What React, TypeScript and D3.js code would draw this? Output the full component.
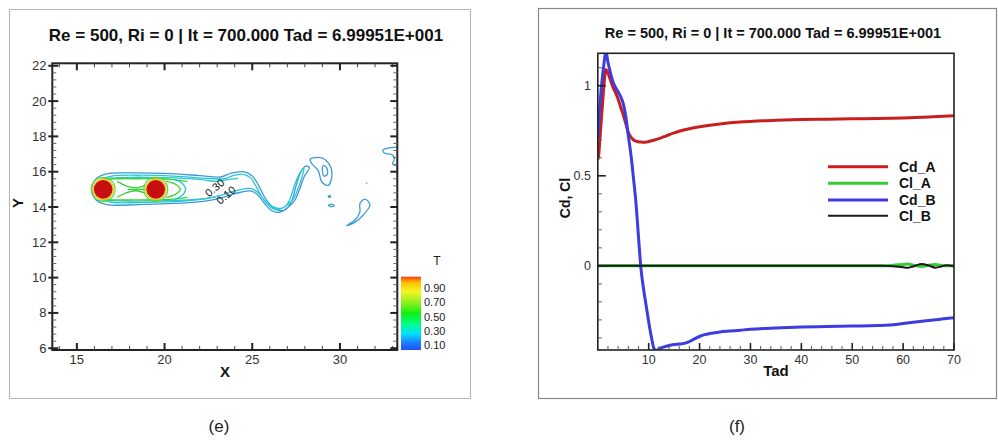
import React from 'react';
import * as d3 from 'd3';

type P = [number, number];

// ---------- Right panel (f) data ----------
const tadCdA = [0, 0.2, 0.4, 0.8, 1.2, 1.6, 2.0, 2.5, 3.0, 3.5, 4.0, 4.5, 5, 5.5, 6, 6.5, 7, 7.5, 8, 8.5, 9, 9.5, 10, 11, 12, 13, 14, 15, 16, 18, 20, 22, 24, 26, 28, 30, 35, 40, 45, 50, 55, 60, 65, 70];
const cdA = [0.59, 0.62, 0.70, 0.85, 1.0, 1.09, 1.07, 1.03, 0.99, 0.96, 0.925, 0.88, 0.84, 0.79, 0.74, 0.715, 0.70, 0.692, 0.689, 0.687, 0.686, 0.687, 0.69, 0.697, 0.706, 0.717, 0.728, 0.738, 0.747, 0.761, 0.772, 0.781, 0.788, 0.794, 0.798, 0.802, 0.808, 0.812, 0.814, 0.816, 0.818, 0.821, 0.826, 0.833];

const tadCdB = [0, 0.2, 0.4, 0.8, 1.2, 1.6, 2.0, 2.5, 3, 3.5, 4, 4.5, 5, 5.5, 6, 6.5, 7, 7.5, 8, 8.5, 9, 9.5, 10, 10.5, 11, 11.5, 12, 13, 14, 15, 16, 17, 18, 19, 20, 21, 22, 24, 26, 28, 30, 35, 40, 45, 50, 55, 58, 60, 62, 65, 68, 70];
const cdB = [0.70, 0.80, 0.89, 1.02, 1.12, 1.19, 1.13, 1.07, 1.02, 0.99, 0.965, 0.94, 0.9, 0.83, 0.72, 0.62, 0.49, 0.35, 0.16, -0.02, -0.13, -0.22, -0.31, -0.39, -0.455, -0.47, -0.462, -0.45, -0.442, -0.437, -0.434, -0.43, -0.42, -0.405, -0.392, -0.382, -0.375, -0.367, -0.362, -0.357, -0.352, -0.345, -0.34, -0.337, -0.334, -0.331, -0.327, -0.32, -0.313, -0.303, -0.294, -0.288];

const tadCl = [0, 10, 20, 30, 40, 50, 56, 58, 60, 61, 62, 63.7, 65, 66.4, 67.5, 68.5, 70];
const clA = [0, 0, 0, 0, 0, 0, 0, 0.003, 0.008, 0.01, 0.004, -0.004, 0.003, 0.008, 0.002, 0.001, 0.004];
const clB = [0, 0, 0, 0, 0, 0, 0, -0.002, -0.008, -0.01, -0.003, 0.01, 0.002, -0.01, -0.003, 0.004, -0.004];

const seriesNames = ['Cd_A', 'Cl_A', 'Cd_B', 'Cl_B'];
const seriesColors = ['#c81e1e', '#33cc33', '#3c3ce0', '#1a1a1a'];
const seriesWidths = [3, 3, 3, 2];

const xTicksR = [10, 20, 30, 40, 50, 60, 70];
const yTicksR = [0, 0.5, 1];
const yTickLabelsR = ['0', '0.5', '1'];

// ---------- Left panel (e) data ----------
const xTicksL = [15, 20, 25, 30];
const yTicksL = [6, 8, 10, 12, 14, 16, 18, 20, 22];
const colorbarLevels = [0.9, 0.7, 0.5, 0.3, 0.1];
const colorbarLabels = ['0.90', '0.70', '0.50', '0.30', '0.10'];
const cylinderCenters: P[] = [[16.5, 15], [19.5, 15]];

const wakeOuter010: P[] = [[15.85, 15.0], [16.1, 15.6], [16.7, 15.88], [18.0, 15.93], [20.0, 15.9], [22.0, 15.78], [23.2, 15.7], [23.8, 15.92], [24.5, 16.0], [25.0, 15.75], [25.35, 15.25], [25.65, 14.65], [26.05, 14.1], [26.45, 13.82], [26.9, 13.85], [27.25, 14.35], [27.5, 15.2], [27.75, 15.95], [28.05, 16.32], [28.25, 16.22], [27.95, 15.7], [27.7, 15.0], [27.4, 14.35], [27.0, 13.95], [26.55, 13.7], [26.1, 13.8], [25.7, 14.2], [25.3, 14.7], [24.95, 14.9], [24.4, 14.85], [23.8, 14.7], [23.2, 14.5], [22.2, 14.32], [20.5, 14.2], [18.5, 14.13], [16.7, 14.14], [16.1, 14.4]];
const wakeInner030: P[] = [[16.0, 15.0], [16.3, 15.5], [17.0, 15.75], [18.5, 15.8], [20.5, 15.75], [22.5, 15.62], [23.4, 15.6], [24.0, 15.8], [24.5, 15.85], [24.9, 15.65], [25.2, 15.2], [25.5, 14.65], [25.95, 14.15], [26.45, 13.92], [26.85, 14.0], [27.15, 14.45], [27.4, 15.2], [27.7, 15.9], [27.95, 16.2], [27.85, 15.75], [27.6, 15.0], [27.3, 14.4], [26.9, 14.05], [26.5, 13.85], [26.1, 13.95], [25.75, 14.3], [25.35, 14.8], [24.9, 15.05], [24.4, 15.0], [23.8, 14.85], [23.2, 14.66], [22.3, 14.46], [20.5, 14.3], [18.5, 14.25], [17.0, 14.27], [16.3, 14.5]];
const wakeBand030Upper: P[] = [[16.6, 15.62], [18.0, 15.68], [20.0, 15.66], [22.0, 15.56], [23.0, 15.45], [23.6, 15.55], [24.2, 15.62]];
const wakeBand030Lower: P[] = [[16.6, 14.38], [18.0, 14.34], [20.0, 14.36], [22.0, 14.44], [22.9, 14.58]];
const greenUpper050: P[] = [[16.1, 15.3], [16.6, 15.56], [17.5, 15.6], [18.5, 15.6], [19.5, 15.6], [20.5, 15.55], [21.3, 15.45]];
const greenLower050: P[] = [[16.1, 14.7], [16.6, 14.44], [17.5, 14.4], [18.5, 14.4], [19.5, 14.4], [20.5, 14.45], [21.3, 14.55]];
const gapTieUpper050: P[] = [[17.3, 15.45], [17.8, 15.2], [18.4, 15.08], [18.9, 15.22]];
const gapTieLower050: P[] = [[17.3, 14.55], [17.8, 14.8], [18.4, 14.92], [18.9, 14.78]];
const gapTieMid050: P[] = [[17.9, 15.0], [18.9, 15.0]];
const rearArc050: P[] = [[20.1, 15.45], [20.6, 15.3], [20.9, 15.0], [20.6, 14.7], [20.1, 14.55]];
const rearArc030: P[] = [[20.6, 15.55], [21.0, 15.35], [21.2, 15.0], [21.0, 14.65], [20.6, 14.45]];
const vortexTop010: P[] = [[28.3, 16.7], [28.96, 16.78], [29.4, 16.4], [29.55, 15.9], [29.34, 15.22], [28.96, 15.43], [28.77, 16.05], [28.4, 16.45]];
const vortexTopInner030: P[] = [[29.05, 16.35], [29.25, 16.2], [29.28, 15.85], [29.1, 15.75], [29.0, 16.05]];
const vortexLow010: P[] = [[31.43, 14.45], [31.71, 14.12], [31.33, 13.55], [30.8, 13.1], [30.38, 12.95], [30.86, 13.26], [31.14, 13.73], [31.14, 14.2]];
const smallEddy010: P[] = [[29.35, 14.1], [29.5, 14.16], [29.68, 14.08], [29.5, 14.02]];
const smallDot010: P[] = [[29.33, 14.6], [29.4, 14.64], [29.46, 14.58], [29.4, 14.54]];
const edgeHook010: P[] = [[33.4, 17.4], [32.9, 17.36], [32.45, 17.22], [32.55, 17.05], [33.0, 16.95], [33.1, 16.7], [33.0, 16.45], [33.4, 16.3]];

const levelColor = (v: number) =>
  v <= 0.1 ? '#3b9bd6' : v <= 0.3 ? '#2cc6d2' : v <= 0.5 ? '#36d236' : v <= 0.7 ? '#c9e63a' : '#f29a1c';

const contourSet = [
  { level: 0.1, closed: true, pts: wakeOuter010 },
  { level: 0.3, closed: true, pts: wakeInner030 },
  { level: 0.3, closed: false, pts: wakeBand030Upper },
  { level: 0.3, closed: false, pts: wakeBand030Lower },
  { level: 0.5, closed: false, pts: greenUpper050 },
  { level: 0.5, closed: false, pts: greenLower050 },
  { level: 0.5, closed: false, pts: gapTieUpper050 },
  { level: 0.5, closed: false, pts: gapTieLower050 },
  { level: 0.5, closed: false, pts: gapTieMid050 },
  { level: 0.5, closed: false, pts: rearArc050 },
  { level: 0.3, closed: false, pts: rearArc030 },
  { level: 0.1, closed: true, pts: vortexTop010 },
  { level: 0.1, closed: true, pts: vortexTopInner030 },
  { level: 0.1, closed: true, pts: vortexLow010 },
  { level: 0.1, closed: true, pts: smallEddy010 },
  { level: 0.1, closed: true, pts: smallDot010 },
  { level: 0.1, closed: false, pts: edgeHook010 },
];

const TITLE = 'Re = 500, Ri = 0 | It = 700.000 Tad = 6.99951E+001';
const FONT = "'Liberation Sans', Arial, sans-serif";

function range(a: number, b: number, s: number) {
  const out: number[] = [];
  for (let v = a; v <= b + 1e-9; v += s) out.push(+v.toFixed(6));
  return out;
}

export default function App() {
  // Left scales
  const xL = d3.scaleLinear().domain([13.6, 33.27]).range([52.3, 397.3]);
  const yL = d3.scaleLinear().domain([5.9, 22.14]).range([350, 63.3]);
  // Right scales
  const xR = d3.scaleLinear().domain([0, 70]).range([597.8, 954]);
  const yR = d3.scaleLinear().domain([-0.467, 1.18]).range([350, 53.3]);

  const lineOpen = d3.line<P>().x(d => xL(d[0])).y(d => yL(d[1])).curve(d3.curveCatmullRom.alpha(0.5));
  const lineClosed = d3.line<P>().x(d => xL(d[0])).y(d => yL(d[1])).curve(d3.curveCatmullRomClosed.alpha(0.5));

  const seriesData: P[][] = [
    tadCdA.map((t, i) => [t, cdA[i]] as P),
    tadCl.map((t, i) => [t, clA[i]] as P),
    tadCdB.map((t, i) => [t, cdB[i]] as P),
    tadCl.map((t, i) => [t, clB[i]] as P),
  ];
  const lineR = d3.line<P>().x(d => xR(d[0])).y(d => yR(d[1])).curve(d3.curveMonotoneX);

  const [lx0, lx1] = xL.range();
  const [ly0, ly1] = yL.range(); // ly0 bottom, ly1 top
  const [rx0, rx1] = xR.range();
  const [ry0, ry1] = yR.range();

  const minorXL = range(14, 33, 1).filter(v => v % 5 !== 0);
  const minorYL = range(6, 22, 0.4).filter(v => Math.abs(v / 2 - Math.round(v / 2)) > 1e-6);
  const minorXR = range(2, 68, 2).filter(v => v % 10 !== 0);
  const minorYR = range(-0.4, 1.1, 0.1).filter(v => Math.abs(v * 2 - Math.round(v * 2)) > 1e-6);

  const cbY = d3.scaleLinear().domain([0.1, 0.9]).range([345, 288]);

  return (
    <svg width={998} height={441} style={{ position: 'absolute', left: 0, top: 0, background: '#fff' }} fontFamily={FONT}>
      <defs>
        <clipPath id="clipL"><rect x={lx0} y={ly1} width={lx1 - lx0} height={ly0 - ly1} /></clipPath>
        <clipPath id="clipR"><rect x={rx0} y={ry1} width={rx1 - rx0} height={ry0 - ry1} /></clipPath>
        <linearGradient id="cbGrad" x1="0" y1="1" x2="0" y2="0">
          <stop offset="0" stopColor="#1f4dff" />
          <stop offset="0.12" stopColor="#1a8cff" />
          <stop offset="0.22" stopColor="#00e0ff" />
          <stop offset="0.35" stopColor="#00ff90" />
          <stop offset="0.5" stopColor="#10f010" />
          <stop offset="0.65" stopColor="#90f020" />
          <stop offset="0.8" stopColor="#f5f520" />
          <stop offset="0.92" stopColor="#ffc000" />
          <stop offset="1" stopColor="#ff3a10" />
        </linearGradient>
      </defs>

      {/* ---------- Panel (e) ---------- */}
      <rect x={9.5} y={9.5} width={461} height={389} fill="none" stroke="#b5b5b5" strokeWidth={1} />
      <text x={246} y={41} textAnchor="middle" fontSize={17} fontWeight="bold" fill="#111">{TITLE}</text>

      <g clipPath="url(#clipL)">
        {contourSet.map((c, i) => (
          <path key={i} d={(c.closed ? lineClosed : lineOpen)(c.pts) || ''} fill="none"
            stroke={levelColor(c.level)} strokeWidth={1.3} />
        ))}
        {cylinderCenters.map((c, i) => (
          <g key={i}>
            <circle cx={xL(c[0])} cy={yL(c[1])} r={xL(c[0] + 0.68) - xL(c[0])} fill="none" stroke="#5ad83a" strokeWidth={1.2} />
            <circle cx={xL(c[0])} cy={yL(c[1])} r={xL(c[0] + 0.6) - xL(c[0])} fill="#f2dc40" stroke="#e8c030" strokeWidth={1} />
            <circle cx={xL(c[0])} cy={yL(c[1])} r={xL(c[0] + 0.53) - xL(c[0])} fill="#c80f0f" />
          </g>
        ))}
        <circle cx={xL(31.52)} cy={yL(15.34)} r={1} fill="#aaa" />
      </g>
      <text x={0} y={0} fontSize={11} fill="#111" transform={`translate(${xL(22.85)},${yL(15.1)}) rotate(-40)`} textAnchor="middle" dominantBaseline="central">0.30</text>
      <text x={0} y={0} fontSize={11} fill="#111" transform={`translate(${xL(23.5)},${yL(14.68)}) rotate(-40)`} textAnchor="middle" dominantBaseline="central">0.10</text>

      {/* frame & ticks left */}
      <rect x={lx0} y={ly1} width={lx1 - lx0} height={ly0 - ly1} fill="none" stroke="#222" strokeWidth={2} />
      {xTicksL.map(v => (
        <g key={'xl' + v}>
          <line x1={xL(v)} x2={xL(v)} y1={ly0} y2={ly0 - 7} stroke="#222" strokeWidth={2} />
          <line x1={xL(v)} x2={xL(v)} y1={ly1} y2={ly1 + 7} stroke="#222" strokeWidth={2} />
          <text x={xL(v)} y={364} textAnchor="middle" fontSize={13} fill="#333">{v}</text>
        </g>
      ))}
      {minorXL.map(v => (
        <g key={'mxl' + v}>
          <line x1={xL(v)} x2={xL(v)} y1={ly0} y2={ly0 - 4} stroke="#444" strokeWidth={1} />
          <line x1={xL(v)} x2={xL(v)} y1={ly1} y2={ly1 + 4} stroke="#444" strokeWidth={1} />
        </g>
      ))}
      {yTicksL.map(v => (
        <g key={'yl' + v}>
          <line x1={lx0 - 4} x2={lx0 + 6} y1={yL(v)} y2={yL(v)} stroke="#222" strokeWidth={2} />
          <line x1={lx1} x2={lx1 - 7} y1={yL(v)} y2={yL(v)} stroke="#222" strokeWidth={2} />
          <text x={46.5} y={yL(v) + 4.5} textAnchor="end" fontSize={13} fill="#333">{v}</text>
        </g>
      ))}
      {minorYL.map(v => (
        <g key={'myl' + v}>
          <line x1={lx0} x2={lx0 + 4} y1={yL(v)} y2={yL(v)} stroke="#666" strokeWidth={1} />
          <line x1={lx1} x2={lx1 - 4} y1={yL(v)} y2={yL(v)} stroke="#666" strokeWidth={1} />
        </g>
      ))}
      <text x={225} y={377} textAnchor="middle" fontSize={15} fontWeight="bold" fill="#111">X</text>
      <text transform="translate(23,203) rotate(-90)" textAnchor="middle" fontSize={15} fontWeight="bold" fill="#111">Y</text>

      {/* colorbar */}
      <rect x={401} y={276.7} width={20} height={73.3} fill="url(#cbGrad)" />
      <text x={437} y={265} textAnchor="middle" fontSize={12} fill="#222">T</text>
      {colorbarLevels.map((v, i) => (
        <text key={'cb' + v} x={424} y={cbY(v) + 4} fontSize={11} fill="#222">{colorbarLabels[i]}</text>
      ))}

      {/* ---------- Panel (f) ---------- */}
      <rect x={538.5} y={8.5} width={458} height={390} fill="none" stroke="#888" strokeWidth={1.2} />
      <text x={773} y={38} textAnchor="middle" fontSize={14.5} fontWeight="bold" fill="#111">{TITLE}</text>

      <g clipPath="url(#clipR)">
        {seriesData.map((d, i) => (
          <path key={seriesNames[i]} d={lineR(d) || ''} fill="none" stroke={seriesColors[i]}
            strokeWidth={seriesWidths[i]} strokeLinejoin="round" />
        ))}
      </g>

      <rect x={rx0} y={ry1} width={rx1 - rx0} height={ry0 - ry1} fill="none" stroke="#222" strokeWidth={1.6} />
      {xTicksR.map(v => (
        <g key={'xr' + v}>
          <line x1={xR(v)} x2={xR(v)} y1={ry0} y2={ry0 - 7} stroke="#222" strokeWidth={1.6} />
          <text x={xR(v)} y={364} textAnchor="middle" fontSize={12.5} fill="#333">{v}</text>
        </g>
      ))}
      {minorXR.map(v => (
        <line key={'mxr' + v} x1={xR(v)} x2={xR(v)} y1={ry0} y2={ry0 - 4} stroke="#555" strokeWidth={1} />
      ))}
      {yTicksR.map((v, i) => (
        <g key={'yr' + v}>
          <line x1={rx0} x2={rx0 + 8} y1={yR(v)} y2={yR(v)} stroke="#222" strokeWidth={1.6} />
          <text x={591} y={yR(v) + 4.5} textAnchor="end" fontSize={12.5} fill="#333">{yTickLabelsR[i]}</text>
        </g>
      ))}
      {minorYR.map(v => (
        <line key={'myr' + v} x1={rx0} x2={rx0 + 4} y1={yR(v)} y2={yR(v)} stroke="#555" strokeWidth={1} />
      ))}
      <text x={776} y={376} textAnchor="middle" fontSize={15} fontWeight="bold" fill="#111">Tad</text>
      <text transform="translate(570,198) rotate(-90)" textAnchor="middle" fontSize={14} fontWeight="bold" fill="#111">Cd, Cl</text>

      {/* legend */}
      {seriesNames.map((n, i) => {
        const y = [166.7, 183.3, 200, 215.7][i];
        return (
          <g key={'lg' + n}>
            <line x1={828} x2={888} y1={y} y2={y} stroke={seriesColors[i]} strokeWidth={seriesWidths[i]} />
            <text x={899} y={y + 5} fontSize={14} fontWeight="bold" fill="#111">{n}</text>
          </g>
        );
      })}

      {/* sub-captions */}
      <text x={219} y={432} textAnchor="middle" fontSize={17} fill="#222" fontFamily="'Liberation Sans Narrow', 'Liberation Sans', Arial">(e)</text>
      <text x={737} y={432} textAnchor="middle" fontSize={17} fill="#222" fontFamily="'Liberation Sans Narrow', 'Liberation Sans', Arial">(f)</text>
    </svg>
  );
}
